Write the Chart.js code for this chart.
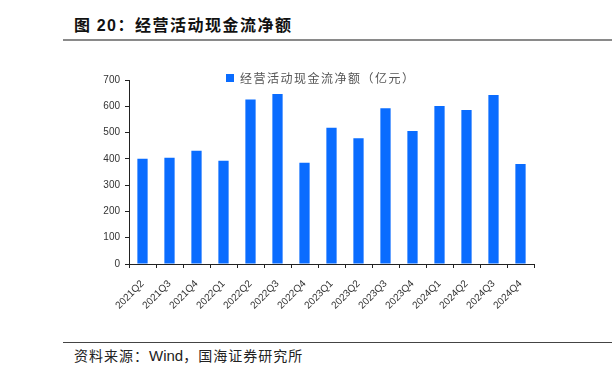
<!DOCTYPE html>
<html>
<head>
<meta charset="utf-8">
<script src="https://cdn.jsdelivr.net/npm/chart.js@4.4.1/dist/chart.umd.min.js"></script>
<style>
  html, body { margin: 0; padding: 0; background: #fff; }
  #page { position: relative; width: 612px; height: 378px; overflow: hidden; }
  #title {
    position: absolute; left: 74px; top: 12px;
    font: bold 16px "Noto Sans CJK SC", sans-serif; color: #111;
    letter-spacing: 1.5px;
  }
  #title .num { font-family: "Liberation Sans", Arial, sans-serif; }
  #rule-top { position: absolute; left: 63px; right: 0; top: 39px; height: 2px; background: #8a8a8a; }
  #rule-bottom { position: absolute; left: 63px; right: 0; top: 342px; height: 1px; background: #444; }
  #source {
    position: absolute; left: 74px; top: 345px;
    font: 14px "Noto Sans CJK SC", sans-serif; color: #222; letter-spacing: 1px;
  }
  #source .en { font-family: "Liberation Sans", Arial, sans-serif; font-size: 15px; letter-spacing: 0; }
  #legend {
    position: absolute; left: 226px; top: 69px;
    font: 12px "Noto Sans CJK SC", sans-serif; color: #555; letter-spacing: 1.5px;
  }
  #legend .box { display: inline-block; width: 8px; height: 8px; background: #0a6cff; margin-right: 6px; vertical-align: 1px; }
  #wrap { position: absolute; left: 80px; top: 69px; width: 470px; height: 261px; }
</style>
</head>
<body>
<div id="page">
  <div id="title">图 <span class="num">20</span>：经营活动现金流净额</div>
  <div id="rule-top"></div>
  <div id="wrap"><canvas id="chart"></canvas></div>
  <div id="legend"><span class="box"></span><span id="legend-text"></span></div>
  <div id="rule-bottom"></div>
  <div id="source">资料来源：<span class="en">Wind</span>，国海证券研究所</div>
</div>
<script>
// --- Data ---
const quarters = [
    '2021Q2', '2021Q3', '2021Q4', '2022Q1', '2022Q2', '2022Q3', '2022Q4', '2023Q1',
    '2023Q2', '2023Q3', '2023Q4', '2024Q1', '2024Q2', '2024Q3', '2024Q4'
];
const cashFlow = [400, 404, 431, 393, 626, 647, 385, 518, 478, 593, 506, 601, 586, 643, 380];
const seriesName = '经营活动现金流净额（亿元）';
const yTicks = [0, 100, 200, 300, 400, 500, 600, 700];

const BLUE = '#0a6cff';
const tickFont = { family: '"Liberation Sans", Arial, sans-serif', size: 10 };

document.getElementById('legend-text').textContent = seriesName;

// --- Chart ---
const ctx = document.getElementById('chart').getContext('2d');
new Chart(ctx, {
    type: 'bar',
    data: {
        labels: quarters,
        datasets: [{
            label: seriesName,
            data: cashFlow,
            backgroundColor: BLUE,
            borderWidth: 0,
            barPercentage: 0.76,
            categoryPercentage: 0.5
        }]
    },
    options: {
        responsive: true,
        maintainAspectRatio: false,
        animation: false,
        layout: { padding: { top: 10, right: 16, left: 0, bottom: 0 } },
        plugins: {
            tooltip: { enabled: false },
            legend: { display: false }
        },
        scales: {
            x: {
                grid: {
                    display: true,
                    drawOnChartArea: false,
                    drawTicks: true,
                    tickLength: 4,
                    color: '#222',
                    offset: true
                },
                border: { color: '#222', width: 1 },
                ticks: {
                    color: '#333',
                    font: tickFont,
                    minRotation: 45,
                    maxRotation: 45,
                    autoSkip: false,
                    padding: 10
                },
                afterFit: (scale) => { scale.height = 66; }
            },
            y: {
                min: 0,
                max: 700,
                afterBuildTicks: (scale) => { scale.ticks = yTicks.map(v => ({ value: v })); },
                grid: {
                    display: true,
                    drawOnChartArea: false,
                    drawTicks: true,
                    tickLength: 4,
                    color: '#222'
                },
                border: { color: '#222', width: 1 },
                ticks: { color: '#333', font: tickFont, padding: 5 },
                afterFit: (scale) => { scale.width = 49; }
            }
        }
    }
});
</script>
</body>
</html>
